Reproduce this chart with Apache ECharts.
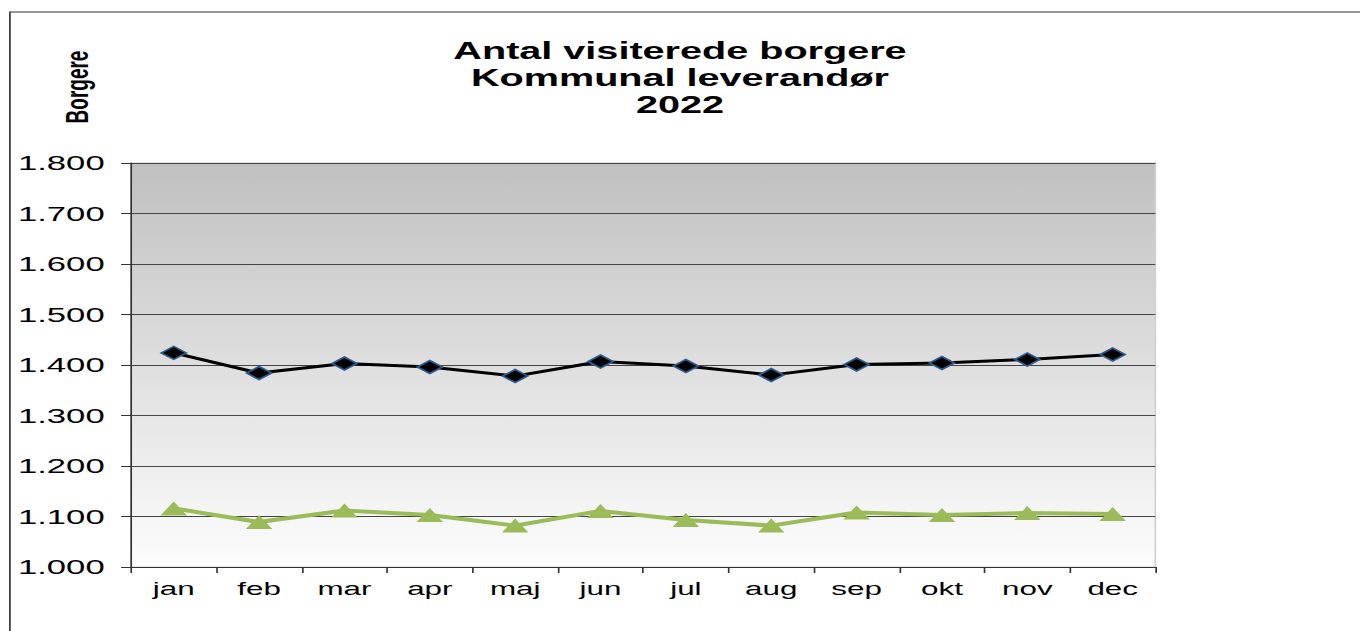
<!DOCTYPE html>
<html>
<head>
<meta charset="utf-8">
<script src="https://cdn.jsdelivr.net/npm/echarts@6/dist/echarts.min.js"></script>
<style>
html,body{margin:0;padding:0;background:#fff;overflow:hidden;width:1360px;height:631px;}
#c{width:824px;height:631px;transform:scaleX(1.6505);transform-origin:0 0;}
</style>
</head>
<body>
<div id="c"></div>
<script>
const months = ['jan','feb','mar','apr','maj','jun','jul','aug','sep','okt','nov','dec'];
const seriesBlack = [1424,1384,1403,1396,1378,1407,1398,1380,1401,1404,1411,1421];
const seriesGreen = [1116,1089,1112,1103,1082,1111,1093,1082,1108,1103,1107,1105];
const titleLines = ['Antal visiterede borgere','Kommunal leverandør','2022'];
const yAxisTitle = 'Borgere';
const yMin = 1000, yMax = 1800, yStep = 100;

const chart = echarts.init(document.getElementById('c'), null, {renderer:'svg'});
const FONT = '"Liberation Sans", Arial, sans-serif';
chart.setOption({
  animation:false,
  backgroundColor:'#ffffff',
  title:{
    text:titleLines.join('\n'),
    left:'center', top:32,
    textStyle:{fontFamily:FONT,fontSize:24,fontWeight:'bold',color:'#000',lineHeight:27}
  },
  graphic:[
    {type:'rect',shape:{x:6,y:12,width:900,height:700},style:{fill:'none',stroke:'#333',lineWidth:1},silent:true},
    {type:'text',x:46.5,y:87,rotation:Math.PI/2,
     style:{text:yAxisTitle,font:'bold 19px "Liberation Sans", Arial, sans-serif',fill:'#000',textAlign:'center',textVerticalAlign:'middle'}}
  ],
  grid:{
    left:79.4, right:124, top:163, bottom:64,
    show:true,
    backgroundColor:new echarts.graphic.LinearGradient(0,0,0,1,[{offset:0,color:'#c0c0c0'},{offset:1,color:'#fdfdfd'}]),
    borderColor:'#d0d0d0', borderWidth:1
  },
  xAxis:{
    type:'category', data:months, boundaryGap:true,
    axisLine:{lineStyle:{color:'#333',width:1}},
    axisTick:{show:true,inside:false,length:6,alignWithLabel:false,lineStyle:{color:'#333'}},
    axisLabel:{margin:12,fontFamily:FONT,fontSize:19,color:'#000',interval:0}
  },
  yAxis:{
    type:'value', min:yMin, max:yMax, interval:yStep,
    axisLine:{show:true,lineStyle:{color:'#333',width:1}},
    axisTick:{show:true,length:6,lineStyle:{color:'#333'}},
    splitLine:{show:true,lineStyle:{color:'#444',width:1}},
    axisLabel:{margin:16,fontFamily:FONT,fontSize:21,color:'#000',
      formatter:v=>{const s=String(Math.round(v));return s.length>3?s.slice(0,s.length-3)+'.'+s.slice(-3):s;}}
  },
  series:[
    {type:'line',data:seriesBlack,symbol:'diamond',symbolSize:[15,13],
     lineStyle:{color:'#000',width:3},
     itemStyle:{color:'#000',borderColor:'#2f5b8f',borderWidth:1.5},z:3},
    {type:'line',data:seriesGreen,symbol:'triangle',symbolSize:[16,14],
     lineStyle:{color:'#9bbb59',width:4},
     itemStyle:{color:'#9bbb59',borderColor:'#9bbb59',borderWidth:0},z:2}
  ]
});
</script>
</body>
</html>
